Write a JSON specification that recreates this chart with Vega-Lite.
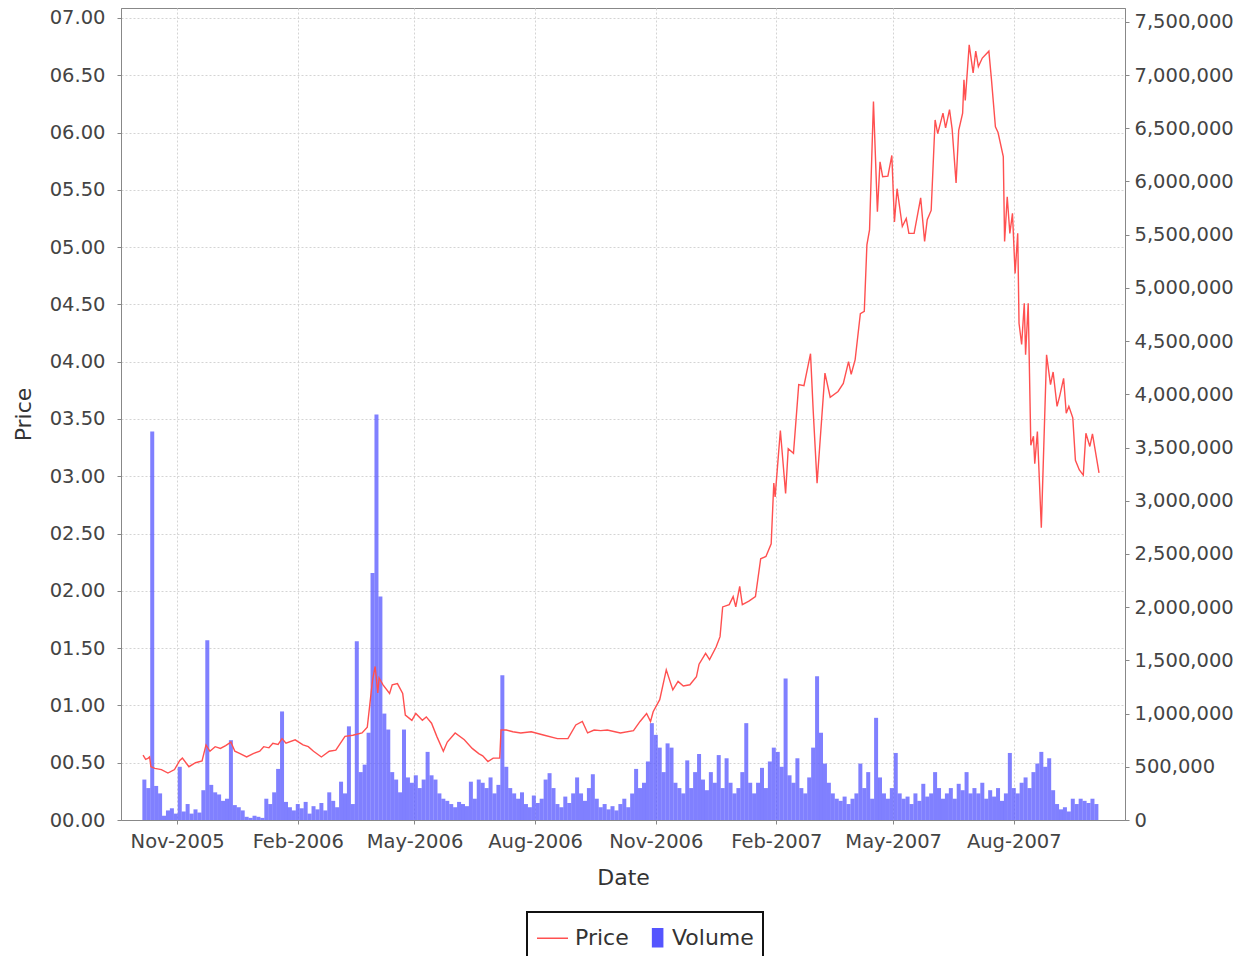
{
  "$schema": "https://vega.github.io/schema/vega-lite/v6.json",
  "width": 1004,
  "height": 812,
  "autosize": {"type": "none"},
  "padding": {"left": 121, "top": 8, "right": 116, "bottom": 136},
  "background": "white",
  "config": {
    "view": {"stroke": "#888888", "strokeWidth": 1},
    "axis": {
      "labelFont": "DejaVu Sans",
      "labelFontSize": 19.5,
      "labelColor": "#444444",
      "titleFont": "DejaVu Sans",
      "titleFontSize": 22,
      "titleFontWeight": "normal",
      "titleColor": "#333333",
      "domainColor": "#888888",
      "tickColor": "#888888",
      "tickSize": 4,
      "gridColor": "#d4d4d4",
      "gridDash": [2, 2],
      "gridWidth": 1
    }
  },
  "datasets": {
    "price": [
      {"date": "2005-10-06", "price": 0.567},
      {"date": "2005-10-08", "price": 0.53},
      {"date": "2005-10-10", "price": 0.54},
      {"date": "2005-10-11", "price": 0.55},
      {"date": "2005-10-12", "price": 0.465},
      {"date": "2005-10-15", "price": 0.45},
      {"date": "2005-10-20", "price": 0.44},
      {"date": "2005-10-25", "price": 0.41},
      {"date": "2005-10-30", "price": 0.44},
      {"date": "2005-11-03", "price": 0.52},
      {"date": "2005-11-05", "price": 0.54},
      {"date": "2005-11-10", "price": 0.465},
      {"date": "2005-11-15", "price": 0.5},
      {"date": "2005-11-20", "price": 0.515},
      {"date": "2005-11-23", "price": 0.655},
      {"date": "2005-11-26", "price": 0.6},
      {"date": "2005-11-30", "price": 0.64},
      {"date": "2005-12-04", "price": 0.625},
      {"date": "2005-12-08", "price": 0.65},
      {"date": "2005-12-12", "price": 0.68},
      {"date": "2005-12-15", "price": 0.6},
      {"date": "2005-12-19", "price": 0.58},
      {"date": "2005-12-24", "price": 0.55},
      {"date": "2005-12-29", "price": 0.58},
      {"date": "2006-01-03", "price": 0.6},
      {"date": "2006-01-06", "price": 0.64},
      {"date": "2006-01-10", "price": 0.63},
      {"date": "2006-01-13", "price": 0.67},
      {"date": "2006-01-17", "price": 0.66},
      {"date": "2006-01-20", "price": 0.71},
      {"date": "2006-01-23", "price": 0.67},
      {"date": "2006-01-30", "price": 0.7},
      {"date": "2006-02-05", "price": 0.655},
      {"date": "2006-02-09", "price": 0.64},
      {"date": "2006-02-13", "price": 0.6},
      {"date": "2006-02-19", "price": 0.55},
      {"date": "2006-02-25", "price": 0.6},
      {"date": "2006-03-02", "price": 0.61},
      {"date": "2006-03-09", "price": 0.73},
      {"date": "2006-03-15", "price": 0.74},
      {"date": "2006-03-22", "price": 0.76},
      {"date": "2006-03-26", "price": 0.81},
      {"date": "2006-03-30", "price": 1.22},
      {"date": "2006-04-01", "price": 1.34},
      {"date": "2006-04-03", "price": 1.11},
      {"date": "2006-04-04", "price": 1.24},
      {"date": "2006-04-07", "price": 1.18},
      {"date": "2006-04-12", "price": 1.105},
      {"date": "2006-04-14", "price": 1.18},
      {"date": "2006-04-18", "price": 1.19},
      {"date": "2006-04-22", "price": 1.105},
      {"date": "2006-04-24", "price": 0.916},
      {"date": "2006-04-29", "price": 0.87},
      {"date": "2006-05-02", "price": 0.93},
      {"date": "2006-05-07", "price": 0.87},
      {"date": "2006-05-10", "price": 0.9},
      {"date": "2006-05-14", "price": 0.845},
      {"date": "2006-05-18", "price": 0.73},
      {"date": "2006-05-23", "price": 0.6},
      {"date": "2006-05-26", "price": 0.68},
      {"date": "2006-06-01", "price": 0.76},
      {"date": "2006-06-08", "price": 0.7},
      {"date": "2006-06-14", "price": 0.625},
      {"date": "2006-06-19", "price": 0.58},
      {"date": "2006-06-22", "price": 0.56},
      {"date": "2006-06-26", "price": 0.51},
      {"date": "2006-06-30", "price": 0.54},
      {"date": "2006-07-05", "price": 0.54},
      {"date": "2006-07-06", "price": 0.785},
      {"date": "2006-07-10", "price": 0.785},
      {"date": "2006-07-15", "price": 0.77},
      {"date": "2006-07-21", "price": 0.76},
      {"date": "2006-07-29", "price": 0.77},
      {"date": "2006-08-08", "price": 0.74},
      {"date": "2006-08-18", "price": 0.71},
      {"date": "2006-08-26", "price": 0.71},
      {"date": "2006-09-01", "price": 0.83},
      {"date": "2006-09-06", "price": 0.86},
      {"date": "2006-09-10", "price": 0.76},
      {"date": "2006-09-15", "price": 0.785},
      {"date": "2006-09-20", "price": 0.78},
      {"date": "2006-09-25", "price": 0.785},
      {"date": "2006-10-05", "price": 0.76},
      {"date": "2006-10-15", "price": 0.78},
      {"date": "2006-10-20", "price": 0.86},
      {"date": "2006-10-25", "price": 0.93},
      {"date": "2006-10-28", "price": 0.86},
      {"date": "2006-10-30", "price": 0.945},
      {"date": "2006-11-04", "price": 1.05},
      {"date": "2006-11-09", "price": 1.31},
      {"date": "2006-11-14", "price": 1.135},
      {"date": "2006-11-18", "price": 1.21},
      {"date": "2006-11-22", "price": 1.17},
      {"date": "2006-11-27", "price": 1.18},
      {"date": "2006-12-02", "price": 1.25},
      {"date": "2006-12-04", "price": 1.36},
      {"date": "2006-12-09", "price": 1.455},
      {"date": "2006-12-12", "price": 1.4},
      {"date": "2006-12-17", "price": 1.51},
      {"date": "2006-12-20", "price": 1.6},
      {"date": "2006-12-22", "price": 1.86},
      {"date": "2006-12-27", "price": 1.88},
      {"date": "2006-12-30", "price": 1.95},
      {"date": "2007-01-01", "price": 1.86},
      {"date": "2007-01-04", "price": 2.04},
      {"date": "2007-01-06", "price": 1.88},
      {"date": "2007-01-11", "price": 1.91},
      {"date": "2007-01-16", "price": 1.95},
      {"date": "2007-01-20", "price": 2.28},
      {"date": "2007-01-24", "price": 2.3},
      {"date": "2007-01-28", "price": 2.41},
      {"date": "2007-01-30", "price": 2.94},
      {"date": "2007-01-31", "price": 2.82},
      {"date": "2007-02-04", "price": 3.4},
      {"date": "2007-02-08", "price": 2.85},
      {"date": "2007-02-10", "price": 3.24},
      {"date": "2007-02-14", "price": 3.2},
      {"date": "2007-02-18", "price": 3.8},
      {"date": "2007-02-22", "price": 3.79},
      {"date": "2007-02-27", "price": 4.07},
      {"date": "2007-03-01", "price": 3.58},
      {"date": "2007-03-04", "price": 2.94},
      {"date": "2007-03-06", "price": 3.26},
      {"date": "2007-03-10", "price": 3.9},
      {"date": "2007-03-14", "price": 3.69},
      {"date": "2007-03-20", "price": 3.74},
      {"date": "2007-03-24", "price": 3.81},
      {"date": "2007-03-28", "price": 4.0},
      {"date": "2007-03-30", "price": 3.89},
      {"date": "2007-04-02", "price": 4.015},
      {"date": "2007-04-06", "price": 4.42},
      {"date": "2007-04-09", "price": 4.44},
      {"date": "2007-04-11", "price": 5.02},
      {"date": "2007-04-13", "price": 5.15},
      {"date": "2007-04-16", "price": 6.27},
      {"date": "2007-04-19", "price": 5.31},
      {"date": "2007-04-21", "price": 5.745},
      {"date": "2007-04-23", "price": 5.615},
      {"date": "2007-04-27", "price": 5.62},
      {"date": "2007-04-30", "price": 5.8},
      {"date": "2007-05-02", "price": 5.22},
      {"date": "2007-05-04", "price": 5.51},
      {"date": "2007-05-08", "price": 5.18},
      {"date": "2007-05-11", "price": 5.25},
      {"date": "2007-05-13", "price": 5.12},
      {"date": "2007-05-17", "price": 5.12},
      {"date": "2007-05-22", "price": 5.43},
      {"date": "2007-05-25", "price": 5.05},
      {"date": "2007-05-27", "price": 5.24},
      {"date": "2007-05-30", "price": 5.32},
      {"date": "2007-06-02", "price": 6.11},
      {"date": "2007-06-04", "price": 5.99},
      {"date": "2007-06-08", "price": 6.17},
      {"date": "2007-06-10", "price": 6.04},
      {"date": "2007-06-13", "price": 6.2},
      {"date": "2007-06-15", "price": 6.03},
      {"date": "2007-06-18", "price": 5.56},
      {"date": "2007-06-20", "price": 6.02},
      {"date": "2007-06-23", "price": 6.17},
      {"date": "2007-06-24", "price": 6.46},
      {"date": "2007-06-25", "price": 6.28},
      {"date": "2007-06-28", "price": 6.765},
      {"date": "2007-07-01", "price": 6.52},
      {"date": "2007-07-03", "price": 6.71},
      {"date": "2007-07-05", "price": 6.575},
      {"date": "2007-07-08", "price": 6.65},
      {"date": "2007-07-13", "price": 6.71},
      {"date": "2007-07-15", "price": 6.46},
      {"date": "2007-07-18", "price": 6.05},
      {"date": "2007-07-20", "price": 6.0},
      {"date": "2007-07-24", "price": 5.79},
      {"date": "2007-07-25", "price": 5.05},
      {"date": "2007-07-27", "price": 5.44},
      {"date": "2007-07-29", "price": 5.12},
      {"date": "2007-07-31", "price": 5.295},
      {"date": "2007-08-02", "price": 4.77},
      {"date": "2007-08-04", "price": 5.12},
      {"date": "2007-08-05", "price": 4.335},
      {"date": "2007-08-07", "price": 4.15},
      {"date": "2007-08-09", "price": 4.51},
      {"date": "2007-08-10", "price": 4.06},
      {"date": "2007-08-12", "price": 4.51},
      {"date": "2007-08-14", "price": 3.27},
      {"date": "2007-08-16", "price": 3.35},
      {"date": "2007-08-17", "price": 3.11},
      {"date": "2007-08-19", "price": 3.39},
      {"date": "2007-08-22", "price": 2.55},
      {"date": "2007-08-26", "price": 4.06},
      {"date": "2007-08-29", "price": 3.8},
      {"date": "2007-08-31", "price": 3.91},
      {"date": "2007-09-03", "price": 3.61},
      {"date": "2007-09-05", "price": 3.7},
      {"date": "2007-09-08", "price": 3.855},
      {"date": "2007-09-10", "price": 3.55},
      {"date": "2007-09-12", "price": 3.61},
      {"date": "2007-09-15", "price": 3.51},
      {"date": "2007-09-17", "price": 3.14},
      {"date": "2007-09-20", "price": 3.055},
      {"date": "2007-09-23", "price": 3.01},
      {"date": "2007-09-25", "price": 3.375},
      {"date": "2007-09-28", "price": 3.26},
      {"date": "2007-09-30", "price": 3.37},
      {"date": "2007-10-05", "price": 3.03}
    ],
    "volume": [
      {"date": "2005-10-07", "volume": 380000},
      {"date": "2005-10-10", "volume": 300000},
      {"date": "2005-10-13", "volume": 3650000},
      {"date": "2005-10-16", "volume": 320000},
      {"date": "2005-10-19", "volume": 250000},
      {"date": "2005-10-22", "volume": 40000},
      {"date": "2005-10-25", "volume": 90000},
      {"date": "2005-10-28", "volume": 110000},
      {"date": "2005-10-31", "volume": 60000},
      {"date": "2005-11-03", "volume": 500000},
      {"date": "2005-11-06", "volume": 80000},
      {"date": "2005-11-09", "volume": 150000},
      {"date": "2005-11-12", "volume": 60000},
      {"date": "2005-11-15", "volume": 100000},
      {"date": "2005-11-18", "volume": 70000},
      {"date": "2005-11-21", "volume": 280000},
      {"date": "2005-11-24", "volume": 1690000},
      {"date": "2005-11-27", "volume": 330000},
      {"date": "2005-11-30", "volume": 260000},
      {"date": "2005-12-03", "volume": 240000},
      {"date": "2005-12-06", "volume": 180000},
      {"date": "2005-12-09", "volume": 200000},
      {"date": "2005-12-12", "volume": 750000},
      {"date": "2005-12-15", "volume": 140000},
      {"date": "2005-12-18", "volume": 120000},
      {"date": "2005-12-21", "volume": 90000},
      {"date": "2005-12-24", "volume": 30000},
      {"date": "2005-12-27", "volume": 20000},
      {"date": "2005-12-30", "volume": 40000},
      {"date": "2006-01-02", "volume": 30000},
      {"date": "2006-01-05", "volume": 20000},
      {"date": "2006-01-08", "volume": 200000},
      {"date": "2006-01-11", "volume": 150000},
      {"date": "2006-01-14", "volume": 260000},
      {"date": "2006-01-17", "volume": 480000},
      {"date": "2006-01-20", "volume": 1020000},
      {"date": "2006-01-23", "volume": 170000},
      {"date": "2006-01-26", "volume": 120000},
      {"date": "2006-01-29", "volume": 90000},
      {"date": "2006-02-01", "volume": 150000},
      {"date": "2006-02-04", "volume": 110000},
      {"date": "2006-02-07", "volume": 170000},
      {"date": "2006-02-10", "volume": 60000},
      {"date": "2006-02-13", "volume": 130000},
      {"date": "2006-02-16", "volume": 100000},
      {"date": "2006-02-19", "volume": 160000},
      {"date": "2006-02-22", "volume": 90000},
      {"date": "2006-02-25", "volume": 260000},
      {"date": "2006-02-28", "volume": 180000},
      {"date": "2006-03-03", "volume": 120000},
      {"date": "2006-03-06", "volume": 360000},
      {"date": "2006-03-09", "volume": 250000},
      {"date": "2006-03-12", "volume": 880000},
      {"date": "2006-03-15", "volume": 150000},
      {"date": "2006-03-18", "volume": 1680000},
      {"date": "2006-03-21", "volume": 450000},
      {"date": "2006-03-24", "volume": 520000},
      {"date": "2006-03-27", "volume": 820000},
      {"date": "2006-03-30", "volume": 2320000},
      {"date": "2006-04-02", "volume": 3810000},
      {"date": "2006-04-05", "volume": 2100000},
      {"date": "2006-04-08", "volume": 1000000},
      {"date": "2006-04-11", "volume": 850000},
      {"date": "2006-04-14", "volume": 450000},
      {"date": "2006-04-17", "volume": 380000},
      {"date": "2006-04-20", "volume": 260000},
      {"date": "2006-04-23", "volume": 850000},
      {"date": "2006-04-26", "volume": 400000},
      {"date": "2006-04-29", "volume": 350000},
      {"date": "2006-05-02", "volume": 420000},
      {"date": "2006-05-05", "volume": 300000},
      {"date": "2006-05-08", "volume": 380000},
      {"date": "2006-05-11", "volume": 640000},
      {"date": "2006-05-14", "volume": 420000},
      {"date": "2006-05-17", "volume": 380000},
      {"date": "2006-05-20", "volume": 250000},
      {"date": "2006-05-23", "volume": 200000},
      {"date": "2006-05-26", "volume": 180000},
      {"date": "2006-05-29", "volume": 150000},
      {"date": "2006-06-01", "volume": 120000},
      {"date": "2006-06-04", "volume": 170000},
      {"date": "2006-06-07", "volume": 150000},
      {"date": "2006-06-10", "volume": 130000},
      {"date": "2006-06-13", "volume": 360000},
      {"date": "2006-06-16", "volume": 200000},
      {"date": "2006-06-19", "volume": 380000},
      {"date": "2006-06-22", "volume": 350000},
      {"date": "2006-06-25", "volume": 300000},
      {"date": "2006-06-28", "volume": 400000},
      {"date": "2006-07-01", "volume": 250000},
      {"date": "2006-07-04", "volume": 330000},
      {"date": "2006-07-07", "volume": 1360000},
      {"date": "2006-07-10", "volume": 500000},
      {"date": "2006-07-13", "volume": 300000},
      {"date": "2006-07-16", "volume": 250000},
      {"date": "2006-07-19", "volume": 200000},
      {"date": "2006-07-22", "volume": 260000},
      {"date": "2006-07-25", "volume": 150000},
      {"date": "2006-07-28", "volume": 120000},
      {"date": "2006-07-31", "volume": 230000},
      {"date": "2006-08-03", "volume": 160000},
      {"date": "2006-08-06", "volume": 200000},
      {"date": "2006-08-09", "volume": 380000},
      {"date": "2006-08-12", "volume": 440000},
      {"date": "2006-08-15", "volume": 300000},
      {"date": "2006-08-18", "volume": 150000},
      {"date": "2006-08-21", "volume": 120000},
      {"date": "2006-08-24", "volume": 220000},
      {"date": "2006-08-27", "volume": 160000},
      {"date": "2006-08-30", "volume": 250000},
      {"date": "2006-09-02", "volume": 400000},
      {"date": "2006-09-05", "volume": 250000},
      {"date": "2006-09-08", "volume": 180000},
      {"date": "2006-09-11", "volume": 300000},
      {"date": "2006-09-14", "volume": 430000},
      {"date": "2006-09-17", "volume": 200000},
      {"date": "2006-09-20", "volume": 120000},
      {"date": "2006-09-23", "volume": 150000},
      {"date": "2006-09-26", "volume": 100000},
      {"date": "2006-09-29", "volume": 130000},
      {"date": "2006-10-02", "volume": 90000},
      {"date": "2006-10-05", "volume": 150000},
      {"date": "2006-10-08", "volume": 200000},
      {"date": "2006-10-11", "volume": 120000},
      {"date": "2006-10-14", "volume": 250000},
      {"date": "2006-10-17", "volume": 480000},
      {"date": "2006-10-20", "volume": 300000},
      {"date": "2006-10-23", "volume": 350000},
      {"date": "2006-10-26", "volume": 550000},
      {"date": "2006-10-29", "volume": 910000},
      {"date": "2006-11-01", "volume": 800000},
      {"date": "2006-11-04", "volume": 680000},
      {"date": "2006-11-07", "volume": 450000},
      {"date": "2006-11-10", "volume": 720000},
      {"date": "2006-11-13", "volume": 680000},
      {"date": "2006-11-16", "volume": 350000},
      {"date": "2006-11-19", "volume": 300000},
      {"date": "2006-11-22", "volume": 250000},
      {"date": "2006-11-25", "volume": 560000},
      {"date": "2006-11-28", "volume": 300000},
      {"date": "2006-12-01", "volume": 450000},
      {"date": "2006-12-04", "volume": 620000},
      {"date": "2006-12-07", "volume": 380000},
      {"date": "2006-12-10", "volume": 280000},
      {"date": "2006-12-13", "volume": 450000},
      {"date": "2006-12-16", "volume": 350000},
      {"date": "2006-12-19", "volume": 610000},
      {"date": "2006-12-22", "volume": 300000},
      {"date": "2006-12-25", "volume": 580000},
      {"date": "2006-12-28", "volume": 350000},
      {"date": "2006-12-31", "volume": 250000},
      {"date": "2007-01-03", "volume": 300000},
      {"date": "2007-01-06", "volume": 450000},
      {"date": "2007-01-09", "volume": 910000},
      {"date": "2007-01-12", "volume": 350000},
      {"date": "2007-01-15", "volume": 250000},
      {"date": "2007-01-18", "volume": 350000},
      {"date": "2007-01-21", "volume": 490000},
      {"date": "2007-01-24", "volume": 300000},
      {"date": "2007-01-27", "volume": 550000},
      {"date": "2007-01-30", "volume": 680000},
      {"date": "2007-02-02", "volume": 640000},
      {"date": "2007-02-05", "volume": 500000},
      {"date": "2007-02-08", "volume": 1330000},
      {"date": "2007-02-11", "volume": 420000},
      {"date": "2007-02-14", "volume": 350000},
      {"date": "2007-02-17", "volume": 580000},
      {"date": "2007-02-20", "volume": 300000},
      {"date": "2007-02-23", "volume": 250000},
      {"date": "2007-02-26", "volume": 400000},
      {"date": "2007-03-01", "volume": 680000},
      {"date": "2007-03-04", "volume": 1350000},
      {"date": "2007-03-07", "volume": 820000},
      {"date": "2007-03-10", "volume": 530000},
      {"date": "2007-03-13", "volume": 350000},
      {"date": "2007-03-16", "volume": 250000},
      {"date": "2007-03-19", "volume": 200000},
      {"date": "2007-03-22", "volume": 180000},
      {"date": "2007-03-25", "volume": 220000},
      {"date": "2007-03-28", "volume": 150000},
      {"date": "2007-03-31", "volume": 200000},
      {"date": "2007-04-03", "volume": 250000},
      {"date": "2007-04-06", "volume": 530000},
      {"date": "2007-04-09", "volume": 300000},
      {"date": "2007-04-12", "volume": 450000},
      {"date": "2007-04-15", "volume": 200000},
      {"date": "2007-04-18", "volume": 960000},
      {"date": "2007-04-21", "volume": 400000},
      {"date": "2007-04-24", "volume": 250000},
      {"date": "2007-04-27", "volume": 200000},
      {"date": "2007-04-30", "volume": 300000},
      {"date": "2007-05-03", "volume": 630000},
      {"date": "2007-05-06", "volume": 250000},
      {"date": "2007-05-09", "volume": 200000},
      {"date": "2007-05-12", "volume": 220000},
      {"date": "2007-05-15", "volume": 150000},
      {"date": "2007-05-18", "volume": 250000},
      {"date": "2007-05-21", "volume": 180000},
      {"date": "2007-05-24", "volume": 340000},
      {"date": "2007-05-27", "volume": 220000},
      {"date": "2007-05-30", "volume": 250000},
      {"date": "2007-06-02", "volume": 450000},
      {"date": "2007-06-05", "volume": 300000},
      {"date": "2007-06-08", "volume": 200000},
      {"date": "2007-06-11", "volume": 250000},
      {"date": "2007-06-14", "volume": 300000},
      {"date": "2007-06-17", "volume": 200000},
      {"date": "2007-06-20", "volume": 340000},
      {"date": "2007-06-23", "volume": 280000},
      {"date": "2007-06-26", "volume": 450000},
      {"date": "2007-06-29", "volume": 250000},
      {"date": "2007-07-02", "volume": 300000},
      {"date": "2007-07-05", "volume": 250000},
      {"date": "2007-07-08", "volume": 350000},
      {"date": "2007-07-11", "volume": 200000},
      {"date": "2007-07-14", "volume": 280000},
      {"date": "2007-07-17", "volume": 220000},
      {"date": "2007-07-20", "volume": 300000},
      {"date": "2007-07-23", "volume": 180000},
      {"date": "2007-07-26", "volume": 250000},
      {"date": "2007-07-29", "volume": 630000},
      {"date": "2007-08-01", "volume": 300000},
      {"date": "2007-08-04", "volume": 250000},
      {"date": "2007-08-07", "volume": 350000},
      {"date": "2007-08-10", "volume": 400000},
      {"date": "2007-08-13", "volume": 300000},
      {"date": "2007-08-16", "volume": 450000},
      {"date": "2007-08-19", "volume": 530000},
      {"date": "2007-08-22", "volume": 640000},
      {"date": "2007-08-25", "volume": 500000},
      {"date": "2007-08-28", "volume": 580000},
      {"date": "2007-08-31", "volume": 280000},
      {"date": "2007-09-03", "volume": 150000},
      {"date": "2007-09-06", "volume": 100000},
      {"date": "2007-09-09", "volume": 120000},
      {"date": "2007-09-12", "volume": 80000},
      {"date": "2007-09-15", "volume": 200000},
      {"date": "2007-09-18", "volume": 150000},
      {"date": "2007-09-21", "volume": 200000},
      {"date": "2007-09-24", "volume": 180000},
      {"date": "2007-09-27", "volume": 160000},
      {"date": "2007-09-30", "volume": 200000},
      {"date": "2007-10-03", "volume": 150000}
    ]
  },
  "layer": [
    {
      "data": {"name": "volume"},
      "mark": {"type": "bar", "size": 4, "opacity": 0.75},
      "encoding": {
        "x": {
          "field": "date",
          "type": "temporal",
          "scale": {
            "type": "utc",
            "domain": [
              {"year": 2005, "month": 9, "date": 23, "utc": true},
              {"year": 2007, "month": 10, "date": 21, "utc": true}
            ]
          },
          "axis": {
            "title": "Date",
            "format": "%b-%Y",
            "values": [
              {"year": 2005, "month": 11, "date": 1, "utc": true},
              {"year": 2006, "month": 2, "date": 1, "utc": true},
              {"year": 2006, "month": 5, "date": 1, "utc": true},
              {"year": 2006, "month": 8, "date": 1, "utc": true},
              {"year": 2006, "month": 11, "date": 1, "utc": true},
              {"year": 2007, "month": 2, "date": 1, "utc": true},
              {"year": 2007, "month": 5, "date": 1, "utc": true},
              {"year": 2007, "month": 8, "date": 1, "utc": true}
            ],
            "grid": true,
            "labelPadding": 8,
            "titlePadding": 17,
            "labelFlush": false,
            "labelOverlap": false
          }
        },
        "y": {
          "field": "volume",
          "type": "quantitative",
          "scale": {"domain": [0, 7630000], "nice": false},
          "axis": {
            "orient": "right",
            "title": null,
            "format": ",d",
            "values": [0, 500000, 1000000, 1500000, 2000000, 2500000, 3000000, 3500000, 4000000, 4500000, 5000000, 5500000, 6000000, 6500000, 7000000, 7500000],
            "grid": false,
            "labelPadding": 5
          }
        },
        "color": {
          "datum": "Volume",
          "type": "nominal",
          "scale": {"domain": ["Price", "Volume"], "range": ["#ff5050", "#5555ff"]},
          "legend": {
            "title": null,
            "orient": "none",
            "direction": "horizontal",
            "legendX": 406,
            "legendY": 904,
            "padding": 9,
            "strokeColor": "#111111",
            "labelFont": "DejaVu Sans",
            "labelFontSize": 22,
            "labelColor": "#333333",
            "labelOffset": 6,
            "columnPadding": 4,
            "symbolSize": 961,
            "symbolStrokeWidth": 1.5,
            "symbolOpacity": 1,
            "encode": {
              "legend": {"update": {"strokeWidth": {"value": 2}}},
              "symbols": {
                "update": {
                  "shape": {"signal": "datum.value === 'Price' ? 'M-1,0L1,0' : 'M0.2,-0.58L0.85,-0.58L0.85,0.58L0.2,0.58Z'"},
                  "fill": {"signal": "datum.value === 'Price' ? 'transparent' : '#5555ff'"},
                  "stroke": {"signal": "datum.value === 'Price' ? '#ff5050' : 'transparent'"},
                  "strokeWidth": {"value": 1.5},
                  "opacity": {"value": 1}
                }
              }
            }
          }
        }
      }
    },
    {
      "data": {"name": "price"},
      "mark": {"type": "line", "strokeWidth": 1.4},
      "encoding": {
        "x": {"field": "date", "type": "temporal"},
        "y": {
          "field": "price",
          "type": "quantitative",
          "scale": {"domain": [0, 7.087], "nice": false},
          "axis": {
            "orient": "left",
            "title": "Price",
            "format": "05.2f",
            "values": [0, 0.5, 1, 1.5, 2, 2.5, 3, 3.5, 4, 4.5, 5, 5.5, 6, 6.5, 7],
            "grid": true,
            "labelPadding": 12,
            "titlePadding": 14
          }
        },
        "color": {"datum": "Price", "type": "nominal"}
      }
    }
  ],
  "resolve": {"scale": {"y": "independent"}}
}
